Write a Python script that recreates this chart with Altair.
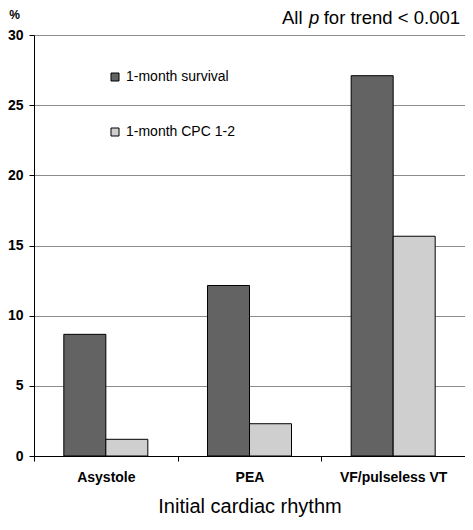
import altair as alt
import pandas as pd

categories = ["Asystole", "PEA", "VF/pulseless VT"]
series_names = ["1-month survival", "1-month CPC 1-2"]
survival = [8.67, 12.15, 27.1]
cpc = [1.19, 2.3, 15.66]
y_ticks = [0, 5, 10, 15, 20, 25, 30]
bar_colors = ["#636363", "#cfcfcf"]

rows = []
for c, s, p in zip(categories, survival, cpc):
    rows.append({"rhythm": c, "series": series_names[0], "value": s})
    rows.append({"rhythm": c, "series": series_names[1], "value": p})
df = pd.DataFrame(rows)

FONT = "Liberation Sans"

bars = alt.Chart(df).mark_bar(stroke="black", strokeWidth=1).encode(
    x=alt.X(
        "rhythm:N",
        sort=categories,
        scale=alt.Scale(paddingInner=0, paddingOuter=0),
        axis=alt.Axis(
            title="Initial cardiac rhythm",
            labelAngle=0,
            tickBand="extent",
            tickSize=5,
            tickColor="black",
            domainColor="black",
            labelFont=FONT,
            labelFontSize=14,
            labelFontWeight="bold",
            labelColor="black",
            labelPadding=9,
            titleFont=FONT,
            titleFontSize=20,
            titleFontWeight="normal",
            titleColor="black",
            titleBaseline="alphabetic",
            titleY=56,
            grid=False,
        ),
    ),
    xOffset=alt.XOffset(
        "series:N",
        sort=series_names,
        scale=alt.Scale(paddingInner=0, paddingOuter=0.71),
    ),
    y=alt.Y(
        "value:Q",
        scale=alt.Scale(domain=[0, 30], nice=False),
        axis=alt.Axis(
            values=y_ticks,
            title="%",
            titleAngle=0,
            titleAlign="center",
            titleBaseline="alphabetic",
            titleX=-20,
            titleY=-17,
            titleFont=FONT,
            titleFontSize=12,
            titleFontWeight="bold",
            titleColor="black",
            labelFont=FONT,
            labelFontSize=14,
            labelFontWeight="bold",
            labelColor="black",
            labelPadding=6,
            tickSize=5,
            tickColor="black",
            domainColor="black",
            grid=True,
            gridColor="#8c8c8c",
            gridWidth=1.2,
        ),
    ),
    color=alt.Color(
        "series:N",
        sort=series_names,
        scale=alt.Scale(domain=series_names, range=bar_colors),
        legend=alt.Legend(
            title=None,
            orient="none",
            legendX=74,
            legendY=35,
            symbolType="square",
            symbolSize=64,
            symbolStrokeColor="black",
            symbolStrokeWidth=1,
            symbolOpacity=1,
            labelFont=FONT,
            labelFontSize=14,
            labelColor="black",
            labelOffset=4,
            rowPadding=41,
            padding=0,
        ),
    ),
)

one = alt.Data(values=[{}])
txt_all = alt.Chart(one).mark_text(
    text="All", align="left", baseline="alphabetic", font=FONT, fontSize=18.5, color="black"
).encode(x=alt.value(248), y=alt.value(-11))
txt_p = alt.Chart(one).mark_text(
    text="p", align="left", baseline="alphabetic", font=FONT, fontSize=18.5,
    fontStyle="italic", color="black"
).encode(x=alt.value(275), y=alt.value(-11))
txt_rest = alt.Chart(one).mark_text(
    text="for trend < 0.001", align="right", baseline="alphabetic", font=FONT,
    fontSize=18.5, color="black"
).encode(x=alt.value(426), y=alt.value(-11))

chart = alt.layer(bars, txt_all, txt_p, txt_rest).properties(
    width=431,
    height=421,
    autosize=alt.AutoSizeParams(type="none"),
    padding={"left": 26, "top": 27, "right": 0, "bottom": 61},
).configure_view(stroke=None).configure(background="white")

chart.save("out.html", embed_options={"renderer": "svg", "actions": False})
